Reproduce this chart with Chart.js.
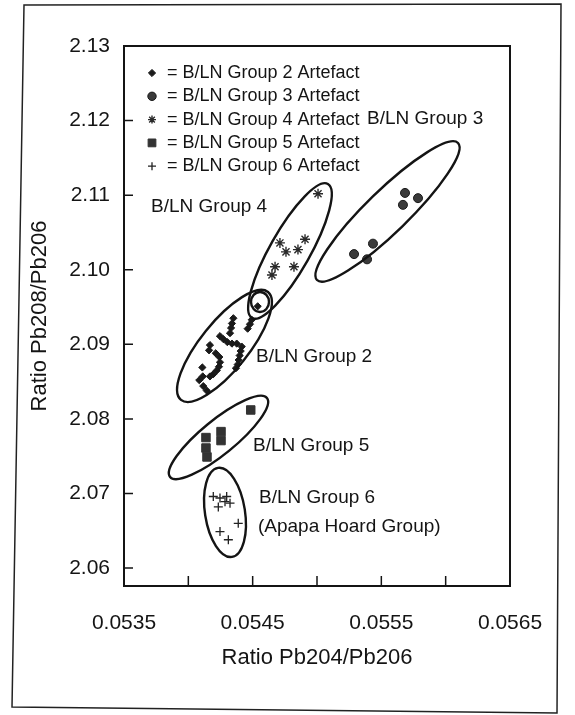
<!DOCTYPE html>
<html>
<head>
<meta charset="utf-8">
<title>Pb isotope ratios - B/LN groups</title>
<script src="https://cdn.jsdelivr.net/npm/chart.js@4.4.0/dist/chart.umd.min.js"></script>
<style>
  body { margin: 0; background: #fff; }
  canvas { display: block; }
</style>
</head>
<body>
<canvas id="leadChart" width="575" height="715"></canvas>
<script>
// values: x = Pb204/Pb206, y = Pb208/Pb206
const group2X = [0.054539, 0.054493, 0.054479, 0.054461, 0.05435, 0.054339, 0.054332, 0.054324, 0.054246, 0.054272, 0.054303,
  0.054339, 0.054376, 0.054415, 0.054407, 0.054399, 0.054391, 0.054384, 0.05437, 0.054168, 0.054161, 0.054213,
  0.054241, 0.054246, 0.054238, 0.054221, 0.054194, 0.054168, 0.054109, 0.054112, 0.054085, 0.054116, 0.054143];
const group2Y = [2.0951, 2.0933, 2.0927, 2.0921, 2.0935, 2.0928, 2.0922, 2.0915, 2.0911, 2.0907, 2.0903,
  2.0901, 2.0901, 2.0897, 2.0891, 2.0885, 2.0879, 2.0873, 2.0868, 2.0899, 2.0892, 2.0888,
  2.0883, 2.0876, 2.0870, 2.0865, 2.0860, 2.0857, 2.0869, 2.0857, 2.0852, 2.0844, 2.0838];

const group3X = [0.055684, 0.055785, 0.055668, 0.055435, 0.055288, 0.055389];
const group3Y = [2.1103, 2.1096, 2.1087, 2.1035, 2.1021, 2.1014];

const group4X = [0.055008, 0.054907, 0.054712, 0.054759, 0.054852, 0.054674, 0.054821, 0.05465];
const group4Y = [2.1102, 2.1041, 2.1036, 2.1024, 2.1027, 2.1004, 2.1004, 2.0993];

const group5X = [0.054485, 0.054254, 0.054254, 0.054137, 0.054137, 0.054145];
const group5Y = [2.0812, 2.0783, 2.0771, 2.0775, 2.0761, 2.0749];

const group6X = [0.054194, 0.054246, 0.054298, 0.054285, 0.054324, 0.054233, 0.054388, 0.054246, 0.054311];
const group6Y = [2.0696, 2.0694, 2.0696, 2.0689, 2.0687, 2.0682, 2.0660, 2.0649, 2.0638];

const legendLabels = ['= B/LN Group 2 Artefact', '= B/LN Group 3 Artefact', '= B/LN Group 4 Artefact',
  '= B/LN Group 5 Artefact', '= B/LN Group 6 Artefact'];
const groupNames = ['B/LN Group 3', 'B/LN Group 4', 'B/LN Group 2', 'B/LN Group 5', 'B/LN Group 6', '(Apapa Hoard Group)'];

const xTickValues = [0.0535, 0.054, 0.0545, 0.055, 0.0555, 0.056, 0.0565];
const xTickLabels = ['0.0535', '', '0.0545', '', '0.0555', '', '0.0565'];
const yTickValues = [2.06, 2.07, 2.08, 2.09, 2.10, 2.11, 2.12, 2.13];

const FONT = "'Liberation Sans', Arial, sans-serif";
const INK = '#141414';

function pts(xs, ys) {
  return xs.map((v, i) => ({ x: v, y: ys[i] }));
}

// where the group names sit (data units, left edge / middle of text)
const nameSpots = [
  [0.055389, 2.1202], [0.05371, 2.1084], [0.054526, 2.0884],
  [0.054503, 2.0764], [0.054549, 2.0694], [0.054541, 2.0655]
];

// hand drawn rings: ends of the long axis in data units, half width in px
const rings = [
  { a: [0.055, 2.09863], b: [0.056096, 2.117], half: 21 },
  { a: [0.054495, 2.09354], b: [0.055085, 2.1115], half: 20 },
  { a: [0.053943, 2.08255], b: [0.054619, 2.09702], half: 24 },
  { a: [0.054557, 2.09702], b: [0.054557, 2.09434], half: 9 },
  { a: [0.053858, 2.07222], b: [0.054611, 2.08281], half: 17 },
  { a: [0.054231, 2.07343], b: [0.054339, 2.0615], half: 20 }
];

const decorPlugin = {
  id: 'decor',
  beforeDraw(chart) {
    const ctx = chart.ctx;
    ctx.save();
    ctx.fillStyle = '#fff';
    ctx.fillRect(0, 0, chart.width, chart.height);
    // outer page frame of the figure
    ctx.strokeStyle = '#222';
    ctx.lineWidth = 1.5;
    ctx.beginPath();
    ctx.moveTo(24, 5);
    ctx.lineTo(561, 4);
    ctx.lineTo(557, 713);
    ctx.lineTo(12, 707);
    ctx.closePath();
    ctx.stroke();
    ctx.restore();
  },
  afterDatasetsDraw(chart) {
    const { ctx, chartArea: area, scales: { x, y } } = chart;
    ctx.save();

    // plot box
    ctx.strokeStyle = INK;
    ctx.lineWidth = 2;
    ctx.strokeRect(area.left, area.top, area.right - area.left, area.bottom - area.top);

    // inward tick marks
    ctx.lineWidth = 1.5;
    ctx.beginPath();
    y.ticks.forEach(t => {
      if (t.value >= y.max) return;
      const py = y.getPixelForValue(t.value);
      ctx.moveTo(area.left, py);
      ctx.lineTo(area.left + 9, py);
    });
    x.ticks.forEach(t => {
      if (t.value <= x.min || t.value >= x.max) return;
      const px = x.getPixelForValue(t.value);
      ctx.moveTo(px, area.bottom);
      ctx.lineTo(px, area.bottom - 10);
    });
    ctx.stroke();

    // rings round each group
    ctx.lineWidth = 2.4;
    rings.forEach(r => {
      const x1 = x.getPixelForValue(r.a[0]), y1 = y.getPixelForValue(r.a[1]);
      const x2 = x.getPixelForValue(r.b[0]), y2 = y.getPixelForValue(r.b[1]);
      const len = Math.hypot(x2 - x1, y2 - y1) / 2;
      const ang = Math.atan2(y2 - y1, x2 - x1);
      ctx.beginPath();
      ctx.ellipse((x1 + x2) / 2, (y1 + y2) / 2, len, r.half, ang, 0, Math.PI * 2);
      ctx.stroke();
    });

    // group names
    ctx.fillStyle = INK;
    ctx.font = '19px ' + FONT;
    ctx.textAlign = 'left';
    ctx.textBaseline = 'middle';
    groupNames.forEach((name, i) => {
      const s = nameSpots[i];
      ctx.fillText(name, x.getPixelForValue(s[0]), y.getPixelForValue(s[1]));
    });

    // key in the top left corner
    ctx.font = '18px ' + FONT;
    legendLabels.forEach((label, i) => {
      const ds = chart.data.datasets[i];
      const rowY = area.top + 27 + i * 23.3;
      const mx = area.left + 28;
      ctx.fillStyle = ds.backgroundColor;
      ctx.strokeStyle = ds.borderColor;
      ctx.lineWidth = ds.borderWidth;
      Chart.helpers.drawPoint(ctx, {
        pointStyle: ds.pointStyle,
        radius: ds.legendRadius,
        rotation: 0,
        borderWidth: ds.borderWidth
      }, mx, rowY);
      ctx.fillStyle = INK;
      ctx.fillText(label, mx + 15, rowY);
    });

    ctx.restore();
  }
};

const ctx = document.getElementById('leadChart').getContext('2d');

const leadChart = new Chart(ctx, {
  type: 'scatter',
  data: {
    datasets: [
      {
        label: 'B/LN Group 2 Artefact',
        data: pts(group2X, group2Y),
        pointStyle: 'rectRot',
        pointRadius: 3.6,
        legendRadius: 3.6,
        backgroundColor: '#1a1a1a',
        borderColor: '#1a1a1a',
        borderWidth: 1
      },
      {
        label: 'B/LN Group 3 Artefact',
        data: pts(group3X, group3Y),
        pointStyle: 'circle',
        pointRadius: 4.5,
        legendRadius: 4.2,
        backgroundColor: '#3a3a3a',
        borderColor: '#1a1a1a',
        borderWidth: 1
      },
      {
        label: 'B/LN Group 4 Artefact',
        data: pts(group4X, group4Y),
        pointStyle: 'star',
        pointRadius: 5,
        legendRadius: 4,
        backgroundColor: '#2a2a2a',
        borderColor: '#2a2a2a',
        borderWidth: 1.4
      },
      {
        label: 'B/LN Group 5 Artefact',
        data: pts(group5X, group5Y),
        pointStyle: 'rect',
        pointRadius: 6,
        legendRadius: 5.5,
        backgroundColor: '#333',
        borderColor: '#333',
        borderWidth: 1
      },
      {
        label: 'B/LN Group 6 Artefact',
        data: pts(group6X, group6Y),
        pointStyle: 'cross',
        pointRadius: 4.5,
        legendRadius: 4,
        backgroundColor: '#222',
        borderColor: '#222',
        borderWidth: 1.3
      }
    ]
  },
  options: {
    responsive: false,
    animation: false,
    layout: { padding: { top: 46, right: 65, left: 0, bottom: 0 } },
    plugins: {
      legend: { display: false },
      tooltip: { enabled: false }
    },
    scales: {
      x: {
        type: 'linear',
        min: 0.0535,
        max: 0.0565,
        afterBuildTicks: s => { s.ticks = xTickValues.map(v => ({ value: v })); },
        afterFit: s => { s.height = 129; },
        grid: { display: false, drawTicks: false },
        border: { display: false },
        ticks: {
          autoSkip: false,
          maxRotation: 0,
          padding: 25,
          color: INK,
          font: { family: FONT, size: 21 },
          callback: (v, i) => xTickLabels[i]
        },
        title: {
          display: true,
          text: 'Ratio Pb204/Pb206',
          color: INK,
          font: { family: FONT, size: 22 },
          padding: { top: 0, bottom: 44 }
        }
      },
      y: {
        type: 'linear',
        min: 2.0576,
        max: 2.13,
        afterBuildTicks: s => { s.ticks = yTickValues.map(v => ({ value: v })); },
        afterFit: s => { s.width = 124; },
        grid: { display: false, drawTicks: false },
        border: { display: false },
        ticks: {
          autoSkip: false,
          padding: 14,
          color: INK,
          font: { family: FONT, size: 21 },
          callback: v => v.toFixed(2)
        },
        title: {
          display: true,
          text: 'Ratio Pb208/Pb206',
          color: INK,
          font: { family: FONT, size: 22 },
          padding: { top: 27, bottom: 0 }
        }
      }
    }
  },
  plugins: [decorPlugin]
});
</script>
</body>
</html>
